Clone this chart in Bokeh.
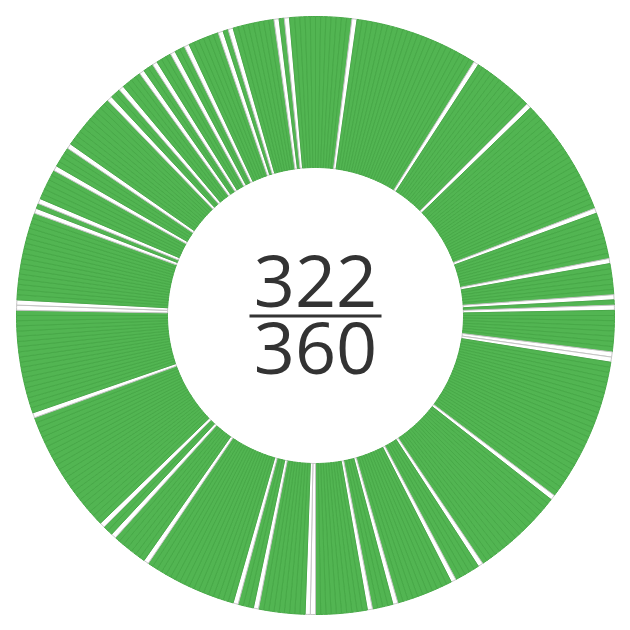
import math
from bokeh.plotting import figure
from bokeh.models import ColumnDataSource
from bokeh.core.properties import value
from bokeh.embed import file_html
from bokeh.resources import INLINE

# --- data ---
total_degrees = 360
degrees = list(range(total_degrees))
missing_degrees = [7, 32, 45, 69, 79, 86, 88, 97, 98,
                   127, 146, 152, 164, 169,
                   180, 181, 191, 195, 214, 222, 225, 250,
                   271, 272, 290, 292, 299, 304, 316, 319, 324, 327,
                   331, 334, 341, 343, 352, 354]
covered = total_degrees - len(missing_degrees)
numerator_label = str(covered)
denominator_label = str(total_degrees)

# --- styling ---
GREEN_FILL = "#52b552"
GREEN_LINE = "#48a948"
GAP_FILL = "#ffffff"
GAP_LINE = "#c4c4c4"
TEXT_COLOR = "#333333"

R_OUT = 299
R_IN = 148

starts, ends, fills, lines = [], [], [], []
missing_set = set(missing_degrees)
for d in degrees:
    # compass degree d (clockwise from north) -> math angle
    starts.append(math.radians(90 - (d + 1)))
    ends.append(math.radians(90 - d))
    if d in missing_set:
        fills.append(GAP_FILL)
        lines.append(GAP_LINE)
    else:
        fills.append(GREEN_FILL)
        lines.append(GREEN_LINE)

src = ColumnDataSource(dict(x=[0] * len(degrees), y=[0] * len(degrees),
                            start=starts, end=ends, fill=fills, line=lines))

p = figure(width=630, height=630, x_range=(-315, 315), y_range=(-315, 315),
           output_backend="svg", toolbar_location=None, min_border=0)
p.axis.visible = False
p.grid.visible = False
p.outline_line_color = None
p.background_fill_color = "white"

p.annular_wedge(x="x", y="y", inner_radius=R_IN, outer_radius=R_OUT,
                start_angle="start", end_angle="end", direction="anticlock",
                fill_color="fill", line_color="line", line_width=1, source=src)

p.text(x=[0], y=[35], text=[numerator_label], text_font=value("Open Sans"),
       text_font_size="72px", text_color=TEXT_COLOR, text_align="center",
       text_baseline="middle")
p.text(x=[0], y=[-32], text=[denominator_label], text_font=value("Open Sans"),
       text_font_size="72px", text_color=TEXT_COLOR, text_align="center",
       text_baseline="middle")
p.segment(x0=[-66], y0=[-0.5], x1=[66], y1=[-0.5], line_color=TEXT_COLOR,
          line_width=3)

open("out.html", "w").write(file_html(p, INLINE))
